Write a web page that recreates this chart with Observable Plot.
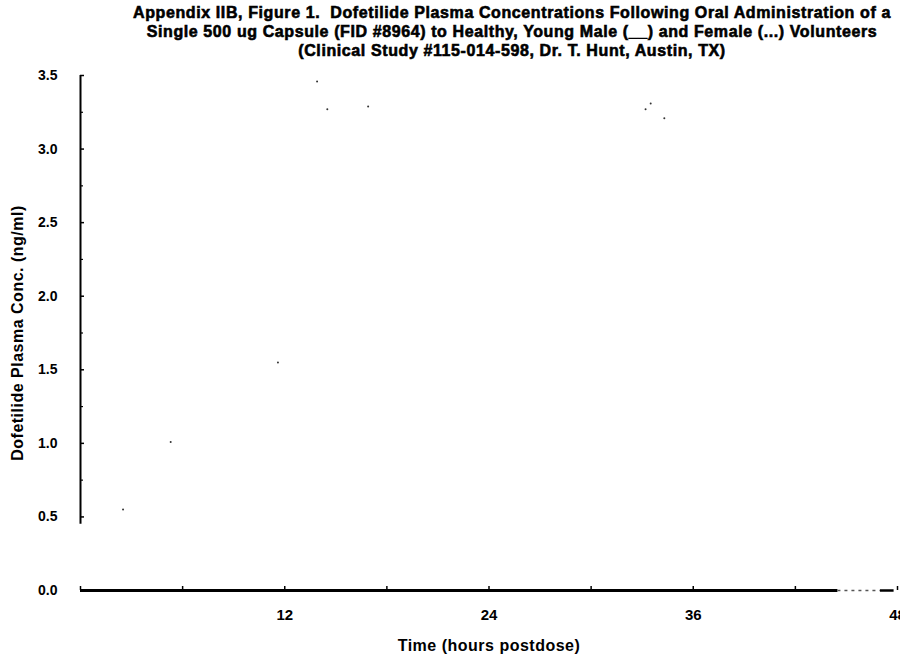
<!DOCTYPE html>
<html><head><meta charset="utf-8">
<script src="https://cdn.jsdelivr.net/npm/d3@7"></script>
<script src="https://cdn.jsdelivr.net/npm/@observablehq/plot@0.6"></script>
<style>
html,body{margin:0;padding:0;background:#fff;}
body{width:900px;height:656px;overflow:hidden;font-family:"Liberation Sans",Arial,sans-serif;}
#title{box-sizing:border-box;height:62px;padding:3px 0 0 124px;text-align:center;font-weight:bold;font-size:16px;letter-spacing:0.6px;line-height:19px;color:#000;white-space:nowrap;-webkit-text-stroke:0.6px #000;}
#chart svg text{font-weight:bold;-webkit-text-stroke:0.6px #000;}
#chart svg .axtitle text{letter-spacing:0.5px;}
</style></head><body>
<div id="title">
<div>Appendix IIB, Figure 1.&nbsp; Dofetilide Plasma Concentrations Following Oral Administration of a</div>
<div>Single 500 ug Capsule (FID #8964) to Healthy, Young Male (__) and Female (...) Volunteers</div>
<div>(Clinical Study #115-014-598, Dr. T. Hunt, Austin, TX)</div>
</div>
<div id="chart"></div>
<script>
// Axis definitions
const xTicks = [0, 6, 12, 18, 24, 30, 36, 42, 48];
const xLabels = [12, 24, 36, 48];
const yMajorTicks = [0, 0.5, 1.0, 1.5, 2.0, 2.5, 3.0, 3.5];
const yMinorTicks = [0.75, 1.25, 1.75, 2.25, 2.75, 3.25];
const yAxisExtent = [0.45, 3.5];
const xAxisTitle = "Time (hours postdose)";
const yAxisTitle = "Dofetilide Plasma Conc. (ng/ml)";

// Baseline (lines merged with the x axis at ~0 ng/ml)
const baselineSolid = [0, 44.5];
const baselineDotted = [44.5, 47.0];
const baselineEnd = [47.0, 47.8];

// Faint surviving data specks (hours, ng/ml)
const specT = [2.5, 5.3, 11.6, 13.9, 14.5, 16.9, 33.2, 33.5, 34.3];
const specC = [0.55, 1.01, 1.55, 3.46, 3.27, 3.29, 3.27, 3.31, 3.21];

const specks = specT.map((t, i) => ({t, c: specC[i]}));

const chart = Plot.plot({
  width: 900, height: 594,
  marginTop: 13, marginBottom: 66, marginLeft: 80, marginRight: 3,
  x: {domain: [0, 48]},
  y: {domain: [0, 3.5]},
  style: {fontFamily: "Liberation Sans, Arial, sans-serif", fontSize: "14px", color: "#000", background: "#fff"},
  marks: [
    Plot.ruleX([0], {y1: yAxisExtent[0], y2: yAxisExtent[1], stroke: "#000", strokeWidth: 2}),
    Plot.axisY(yMajorTicks, {tickSize: -4, tickFormat: () => "", label: null, strokeWidth: 1.5}),
    Plot.axisY(yMinorTicks, {tickSize: -3, tickFormat: () => "", label: null, strokeWidth: 1.2}),
    Plot.axisY(yMajorTicks, {tickSize: 0, tickPadding: 23, tickFormat: d => d.toFixed(1), label: null, fontSize: 14, fill: "#000"}),
    Plot.axisX(xTicks, {tickSize: -4, tickFormat: () => "", label: null, strokeWidth: 1.5}),
    Plot.axisX(xLabels, {tickSize: 0, tickPadding: 19, label: null, fontSize: 15, fill: "#000"}),
    Plot.ruleY([0], {x1: baselineSolid[0], x2: baselineSolid[1], stroke: "#000", strokeWidth: 3}),
    Plot.ruleY([0], {x1: baselineDotted[0], x2: baselineDotted[1], stroke: "#555", strokeWidth: 1.5, strokeDasharray: "3,4"}),
    Plot.ruleY([0], {x1: baselineEnd[0], x2: baselineEnd[1], stroke: "#000", strokeWidth: 2.5}),
    Plot.dot(specks, {x: "t", y: "c", r: 1, fill: "#333", stroke: null}),
    Plot.text([xAxisTitle], {frameAnchor: "bottom", dy: 55, fontSize: 16, fill: "#000", lineAnchor: "middle", textAnchor: "middle", className: "axtitle"}),
    Plot.text([yAxisTitle], {frameAnchor: "left", dx: -63, rotate: -90, fontSize: 16, fill: "#000", lineAnchor: "middle", textAnchor: "middle", className: "axtitle"})
  ]
});
document.getElementById("chart").appendChild(chart);
</script></body></html>
